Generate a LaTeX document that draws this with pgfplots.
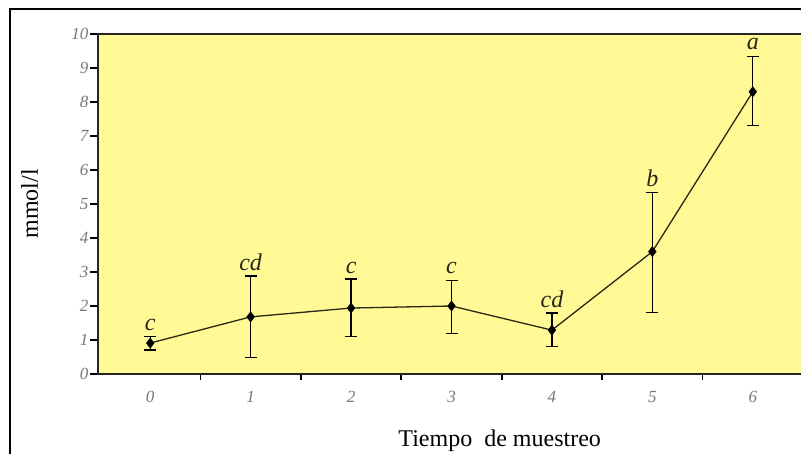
\documentclass[border=0pt]{standalone}
\usepackage{pgfplots}
\pgfplotsset{compat=1.18}
\usepackage{fontspec}
\setmainfont{Liberation Serif}
\definecolor{bgy}{RGB}{255,249,150}
\definecolor{tickg}{RGB}{120,120,120}
\definecolor{lineol}{RGB}{40,40,20}
\begin{document}
\begin{tikzpicture}[x=1pt,y=1pt]
\useasboundingbox (-98,-80) rectangle (703,374);
\fill[white] (-98,-80) rectangle (703,374);
\draw[line width=2pt,black] (-88,-81) -- (-88,365) -- (704,365);
\begin{axis}[
  at={(0,0)}, anchor=south west,
  scale only axis,
  width=705pt, height=340pt,
  xmin=-0.52, xmax=6.5,
  ymin=0, ymax=10,
  axis background/.style={fill=bgy},
  axis line style={line width=1.2pt, black!85},
  xtick={0,...,6},
  major x tick style={draw=none},
  minor xtick={0.5,1.5,2.5,3.5,4.5,5.5},
  minor x tick style={line width=1.6pt, black},
  ytick={0,...,10},
  y tick style={line width=1.2pt, black},
  tick align=outside,
  major tick length=8pt,
  minor tick length=6pt,
  xtick pos=bottom, ytick pos=left,
  /pgf/number format/assume math mode=true,
  ticklabel style={font=\fontsize{17}{18}\selectfont\itshape, text=tickg},
  xticklabel style={yshift=-6pt},
  yticklabel style={xshift=2pt},
  clip=false,
]
\addplot+[lineol, line width=1.3pt, mark=diamond*, mark size=4.5pt,
  mark options={fill=black, draw=black},
  error bars/.cd, y dir=both, y explicit,
  error bar style={line width=1.3pt, black},
  error mark options={rotate=90, mark size=6pt, line width=1.3pt, black}]
  coordinates {
  (0,0.91) +- (0,0.20)
  (1,1.68) += (0,1.20) -= (0,1.20)
  (2,1.94) += (0,0.85) -= (0,0.84)
  (3,2.00) += (0,0.76) -= (0,0.80)
  (4,1.29) += (0,0.50) -= (0,0.49)
  (5,3.60) += (0,1.73) -= (0,1.80)
  (6,8.30) += (0,1.03) -= (0,1.00)
  };
\begin{scope}[every node/.style={font=\fontsize{24}{24}\selectfont\itshape, text=lineol, anchor=south, inner sep=1pt}]
\node at (axis cs:0,1.25) {c};
\node at (axis cs:1,3.00) {cd};
\node at (axis cs:2,2.92) {c};
\node at (axis cs:3,2.90) {c};
\node at (axis cs:4,1.90) {cd};
\node at (axis cs:5,5.48) {b};
\node at (axis cs:6,9.50) {a};
\end{scope}
\node[font=\fontsize{24}{24}\selectfont, rotate=90] at (axis cs:-1.2,5) {mmol/l};
\node[font=\fontsize{24}{24}\selectfont] at (axis cs:3.48,-1.95) {Tiempo\ \ de muestreo};
\end{axis}
\end{tikzpicture}
\end{document}
